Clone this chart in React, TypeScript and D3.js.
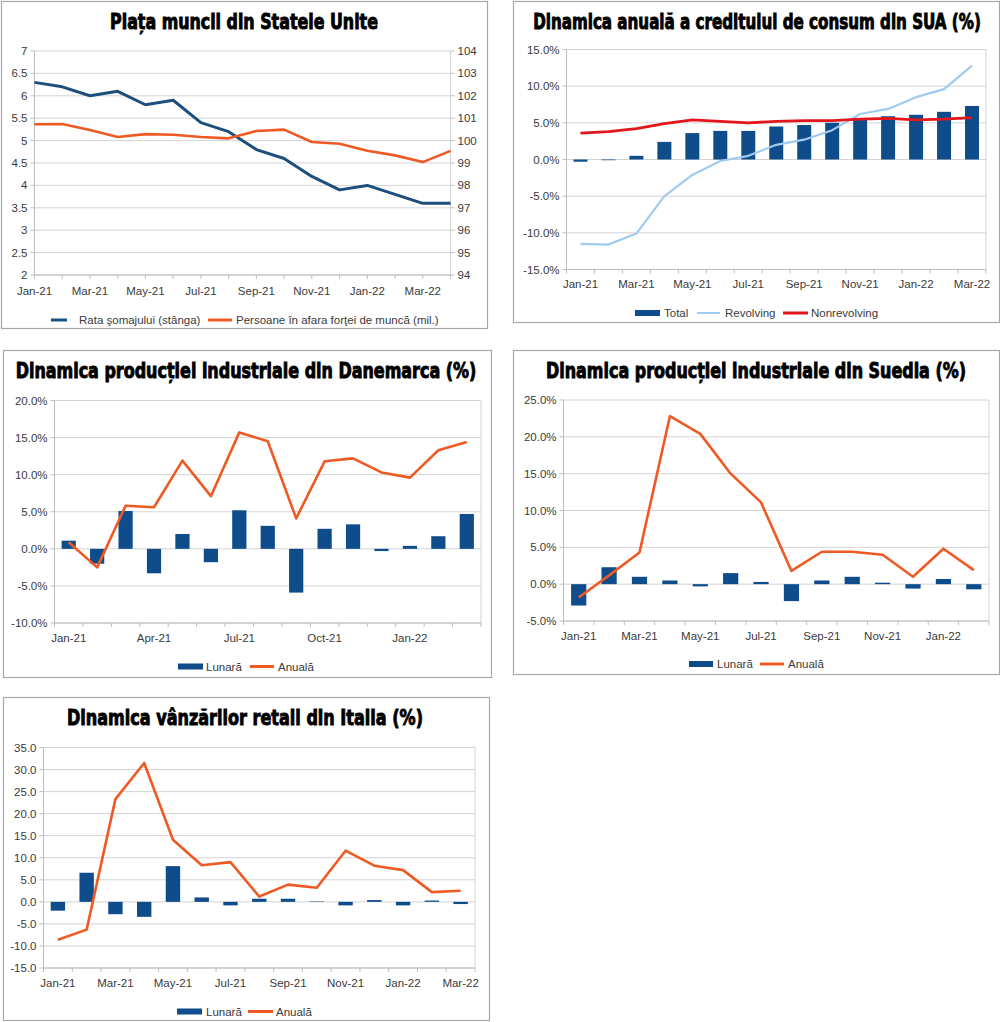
import { useLayoutEffect, useRef, useState } from "react";
import * as d3 from "d3";

// ---- data ----
const months = [
  "Jan-21", "Feb-21", "Mar-21", "Apr-21", "May-21", "Jun-21", "Jul-21", "Aug-21",
  "Sep-21", "Oct-21", "Nov-21", "Dec-21", "Jan-22", "Feb-22", "Mar-22", "Apr-22",
];

// Piața muncii din Statele Unite (Jan-21 .. Apr-22)
const usMonths = months.slice(0, 16);
const unemployment = [6.3, 6.2, 6.0, 6.1, 5.8, 5.9, 5.4, 5.2, 4.8, 4.6, 4.2, 3.9, 4.0, 3.8, 3.6, 3.6];
const outOfLabor = [100.73, 100.74, 100.47, 100.16, 100.29, 100.26, 100.16, 100.1, 100.43, 100.49, 99.94, 99.86, 99.55, 99.34, 99.04, 99.54];

// Creditul de consum SUA (Jan-21 .. Mar-22)
const creditMonths = months.slice(0, 15);
const creditTotal = [-0.3, -0.1, 0.5, 2.4, 3.6, 3.9, 3.9, 4.5, 4.7, 5.0, 5.6, 5.9, 6.1, 6.5, 7.3];
const creditRevolving = [-11.5, -11.6, -10.1, -5.0, -2.1, -0.2, 0.5, 2.0, 2.7, 4.0, 6.2, 6.9, 8.5, 9.6, 12.8];
const creditNonrevolving = [3.6, 3.8, 4.2, 4.9, 5.4, 5.2, 5.0, 5.2, 5.3, 5.3, 5.5, 5.6, 5.4, 5.5, 5.7];

// Danemarca (Jan-21 .. Mar-22)
const dkMonths = months.slice(0, 15);
const dkMonthly = [1.1, -2.0, 5.1, -3.3, 2.0, -1.8, 5.2, 3.1, -5.9, 2.7, 3.3, -0.3, 0.4, 1.7, 4.7];
const dkAnnual = [0.9, -2.5, 5.8, 5.6, 11.9, 7.1, 15.7, 14.5, 4.1, 11.8, 12.2, 10.3, 9.6, 13.3, 14.4];

// Suedia (Jan-21 .. Feb-22)
const seMonths = months.slice(0, 14);
const seMonthly = [-2.9, 2.3, 1.0, 0.5, -0.3, 1.5, 0.3, -2.3, 0.5, 1.0, 0.2, -0.6, 0.7, -0.7];
const seAnnual = [-1.8, 1.2, 4.3, 22.8, 20.4, 15.0, 11.1, 1.8, 4.4, 4.4, 4.0, 1.0, 4.8, 1.9];

// Italia (Jan-21 .. Mar-22)
const itMonths = months.slice(0, 15);
const itMonthly = [-2.0, 6.6, -2.8, -3.4, 8.1, 1.0, -0.8, 0.7, 0.7, 0.1, -0.8, 0.4, -0.8, 0.3, -0.5];
const itAnnual = [-8.6, -6.3, 23.3, 31.5, 14.1, 8.3, 9.0, 1.2, 3.9, 3.2, 11.6, 8.2, 7.2, 2.2, 2.5];

// ---- styles ----
const NAVY = "#0f4c8c";
const BLUE_LINE = "#1d4f7c";
const ORANGE = "#ef5a24";
const LIGHT_BLUE = "#9fcbf0";
const RED = "#e3161c";
const GRID = "#d4d4d4";
const TEXT = "#3a3a3a";
const FONT = "'Liberation Sans', Arial, sans-serif";
const TITLE_FONT = "'Liberation Sans Narrow', 'DejaVu Sans Condensed', sans-serif";

type Line = { values: number[]; color: string; width: number; right?: boolean };
type LegendItem = { kind: "bar" | "line"; color: string; label: string; x: number; x2: number; tx: number; width?: number };

type PanelProps = {
  box: [number, number, number, number];
  title: string;
  titleX: number;
  titleY: number;
  titleW: number;
  plot: { left: number; right: number; top: number; bottom: number };
  yDomain: [number, number];
  yStep: number;
  yFmt: (v: number) => string;
  y2?: { domain: [number, number]; step: number; fmt: (v: number) => string };
  cats: string[];
  mode: "point" | "band";
  labelEvery: number;
  bars?: number[];
  lines: Line[];
  xLabelY: number;
  legendY: number;
  legend: LegendItem[];
};

// condensed heavy title: measured, then squeezed horizontally to the reference width
function Title({ text, cx, y, w }: { text: string; cx: number; y: number; w: number }) {
  const ref = useRef<SVGTextElement>(null);
  const [sx, setSx] = useState(1);
  useLayoutEffect(() => {
    if (!ref.current) return;
    const len = ref.current.getComputedTextLength();
    if (len > 0) setSx(w / len);
  }, [w, text]);
  return (
    <text
      ref={ref}
      transform={`translate(${cx},${y}) scale(${sx},1)`}
      textAnchor="middle"
      fontFamily={TITLE_FONT}
      fontWeight="bold"
      fontSize={21.5}
      fill="#000"
      stroke="#000"
      strokeWidth={0.9}
    >
      {text}
    </text>
  );
}

function Panel(p: PanelProps) {
  const { plot } = p;
  const y = d3.scaleLinear().domain(p.yDomain).range([plot.bottom, plot.top]);
  const yTicks = d3.range(p.yDomain[0], p.yDomain[1] + p.yStep / 2, p.yStep);
  const y2 = p.y2 ? d3.scaleLinear().domain(p.y2.domain).range([plot.bottom, plot.top]) : null;
  const y2Ticks = p.y2 ? d3.range(p.y2.domain[0], p.y2.domain[1] + p.y2.step / 2, p.y2.step) : [];

  let xc: (i: number) => number;
  let tickXs: number[];
  let bw = 0;
  if (p.mode === "point") {
    const x = d3.scalePoint<string>().domain(p.cats).range([plot.left, plot.right]).padding(0);
    xc = (i) => x(p.cats[i])!;
    tickXs = p.cats.map((c) => x(c)!);
  } else {
    const x = d3.scaleBand<string>().domain(p.cats).range([plot.left, plot.right]).padding(0);
    bw = x.bandwidth();
    xc = (i) => x(p.cats[i])! + bw / 2;
    tickXs = [...p.cats.map((c) => x(c)!), plot.right];
  }

  const [bx, by, bwid, bh] = p.box;

  return (
    <g>
      <rect x={bx + 0.5} y={by + 0.5} width={bwid} height={bh} fill="#fff" stroke="#a8a8a8" strokeWidth={1.2} />
      <Title text={p.title} cx={p.titleX} y={p.titleY} w={p.titleW} />

      {/* grid */}
      {yTicks.map((t, i) => (
        <line key={i} x1={plot.left} x2={plot.right} y1={y(t)} y2={y(t)} stroke={GRID} strokeWidth={1} />
      ))}
      <line x1={plot.right} x2={plot.right} y1={plot.top} y2={plot.bottom} stroke={GRID} />
      <line x1={plot.left} x2={plot.left} y1={plot.top} y2={plot.bottom} stroke="#bdbdbd" />
      <line x1={plot.left} x2={plot.right} y1={plot.bottom} y2={plot.bottom} stroke="#bdbdbd" />

      {/* y axis */}
      {yTicks.map((t, i) => (
        <g key={i}>
          <line x1={plot.left - 4} x2={plot.left} y1={y(t)} y2={y(t)} stroke="#bdbdbd" />
          <text x={plot.left - 7} y={y(t) + 4} textAnchor="end" fontFamily={FONT} fontSize={11.5} fill={TEXT}>
            {p.yFmt(t)}
          </text>
        </g>
      ))}
      {y2 &&
        y2Ticks.map((t, i) => (
          <g key={i}>
            <line x1={plot.right} x2={plot.right + 4} y1={y2(t)} y2={y2(t)} stroke="#bdbdbd" />
            <text x={plot.right + 7} y={y2(t) + 4} fontFamily={FONT} fontSize={11.5} fill={TEXT}>
              {p.y2!.fmt(t)}
            </text>
          </g>
        ))}

      {/* x axis */}
      {tickXs.map((tx, i) => (
        <line key={i} x1={tx} x2={tx} y1={plot.bottom} y2={plot.bottom + 4} stroke="#bdbdbd" />
      ))}
      {p.cats.map((c, i) =>
        i % p.labelEvery === 0 ? (
          <text key={c} x={xc(i)} y={p.xLabelY} textAnchor="middle" fontFamily={FONT} fontSize={11.5} fill={TEXT}>
            {c}
          </text>
        ) : null
      )}

      {/* bars */}
      {p.bars &&
        p.bars.map((v, i) => (
          <rect
            key={i}
            x={xc(i) - bw * 0.25}
            width={bw * 0.5}
            y={Math.min(y(v), y(0))}
            height={Math.abs(y(v) - y(0))}
            fill={NAVY}
          />
        ))}

      {/* lines */}
      {p.lines.map((l, k) => {
        const ys = l.right && y2 ? y2 : y;
        const gen = d3
          .line<number>()
          .x((_, i) => xc(i))
          .y((v) => ys(v));
        return (
          <path key={k} d={gen(l.values) ?? ""} fill="none" stroke={l.color} strokeWidth={l.width} strokeLinejoin="round" />
        );
      })}

      {/* legend */}
      {p.legend.map((it, i) => (
        <g key={i}>
          {it.kind === "bar" ? (
            <rect x={it.x} y={p.legendY - 3} width={it.x2 - it.x} height={6} fill={it.color} />
          ) : (
            <line x1={it.x} x2={it.x2} y1={p.legendY} y2={p.legendY} stroke={it.color} strokeWidth={it.width ?? 3} />
          )}
          <text x={it.tx} y={p.legendY + 4} fontFamily={FONT} fontSize={11.5} fill={TEXT}>
            {it.label}
          </text>
        </g>
      ))}
    </g>
  );
}

const pct = (v: number) => `${v.toFixed(1)}%`;

export default function App() {
  return (
    <div>
      <style>{"body{margin:0;background:#fff}"}</style>
      <svg width={1000} height={1022} viewBox="0 0 1000 1022" style={{ display: "block" }}>
        <rect width={1000} height={1022} fill="#fff" />
        <Panel
          box={[1, 1, 486, 327]}
          title="Piața muncii din Statele Unite"
          titleX={244}
          titleY={29}
          titleW={268}
          plot={{ left: 34.5, right: 450.5, top: 51, bottom: 275 }}
          yDomain={[2, 7]}
          yStep={0.5}
          yFmt={(v) => String(+v.toFixed(1))}
          y2={{ domain: [94, 104], step: 1, fmt: (v) => String(v) }}
          cats={usMonths}
          mode="point"
          labelEvery={2}
          lines={[
            { values: unemployment, color: BLUE_LINE, width: 3 },
            { values: outOfLabor, color: ORANGE, width: 2.6, right: true },
          ]}
          xLabelY={295}
          legendY={320}
          legend={[
            { kind: "line", color: BLUE_LINE, label: "Rata şomajului (stânga)", x: 51, x2: 67, tx: 79 },
            { kind: "line", color: ORANGE, label: "Persoane în afara forţei de muncă (mil.)", x: 208, x2: 232, tx: 236 },
          ]}
        />
        <Panel
          box={[513, 1, 486, 321]}
          title="Dinamica anuală a creditului de consum din SUA (%)"
          titleX={757}
          titleY={28.5}
          titleW={448}
          plot={{ left: 566.5, right: 986, top: 49.5, bottom: 269.5 }}
          yDomain={[-15, 15]}
          yStep={5}
          yFmt={pct}
          cats={creditMonths}
          mode="band"
          labelEvery={2}
          bars={creditTotal}
          lines={[
            { values: creditRevolving, color: LIGHT_BLUE, width: 2.2 },
            { values: creditNonrevolving, color: RED, width: 2.8 },
          ]}
          xLabelY={288}
          legendY={313}
          legend={[
            { kind: "bar", color: NAVY, label: "Total", x: 635, x2: 660, tx: 664 },
            { kind: "line", color: LIGHT_BLUE, label: "Revolving", x: 697, x2: 720, tx: 725, width: 2 },
            { kind: "line", color: RED, label: "Nonrevolving", x: 783, x2: 808, tx: 811 },
          ]}
        />
        <Panel
          box={[3, 350, 488, 327]}
          title="Dinamica producției industriale din Danemarca (%)"
          titleX={246}
          titleY={378}
          titleW={461}
          plot={{ left: 54.5, right: 481, top: 400.5, bottom: 623 }}
          yDomain={[-10, 20]}
          yStep={5}
          yFmt={pct}
          cats={dkMonths}
          mode="band"
          labelEvery={3}
          bars={dkMonthly}
          lines={[{ values: dkAnnual, color: ORANGE, width: 2.6 }]}
          xLabelY={642}
          legendY={666.5}
          legend={[
            { kind: "bar", color: NAVY, label: "Lunară", x: 178, x2: 203, tx: 206 },
            { kind: "line", color: ORANGE, label: "Anuală", x: 250, x2: 274, tx: 278 },
          ]}
        />
        <Panel
          box={[513, 350, 486, 324]}
          title="Dinamica producției industriale din Suedia (%)"
          titleX={756}
          titleY={378}
          titleW={420}
          plot={{ left: 563.5, right: 989, top: 400, bottom: 621 }}
          yDomain={[-5, 25]}
          yStep={5}
          yFmt={pct}
          cats={seMonths}
          mode="band"
          labelEvery={2}
          bars={seMonthly}
          lines={[{ values: seAnnual, color: ORANGE, width: 2.6 }]}
          xLabelY={640}
          legendY={664}
          legend={[
            { kind: "bar", color: NAVY, label: "Lunară", x: 689, x2: 713, tx: 717 },
            { kind: "line", color: ORANGE, label: "Anuală", x: 760, x2: 784, tx: 788 },
          ]}
        />
        <Panel
          box={[3, 697, 486, 323]}
          title="Dinamica vânzărilor retail din Italia (%)"
          titleX={245}
          titleY={725}
          titleW={356}
          plot={{ left: 43.5, right: 475, top: 747.5, bottom: 968 }}
          yDomain={[-15, 35]}
          yStep={5}
          yFmt={(v) => v.toFixed(1)}
          cats={itMonths}
          mode="band"
          labelEvery={2}
          bars={itMonthly}
          lines={[{ values: itAnnual, color: ORANGE, width: 2.6 }]}
          xLabelY={987}
          legendY={1011.5}
          legend={[
            { kind: "bar", color: NAVY, label: "Lunară", x: 177, x2: 202, tx: 206 },
            { kind: "line", color: ORANGE, label: "Anuală", x: 248, x2: 273, tx: 276 },
          ]}
        />
      </svg>
    </div>
  );
}
